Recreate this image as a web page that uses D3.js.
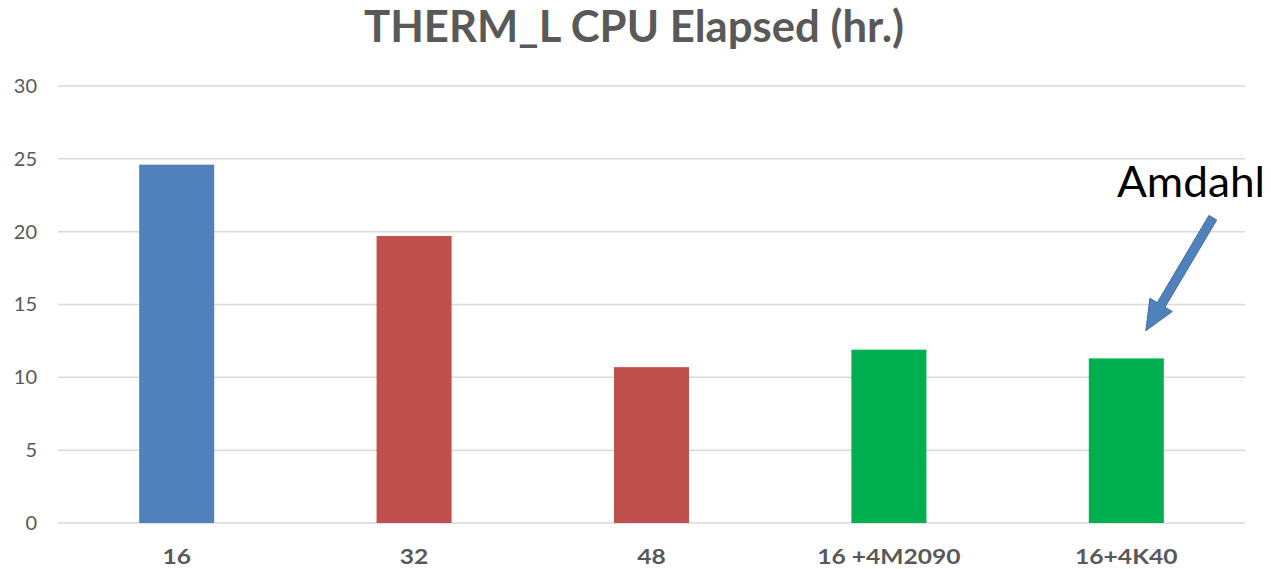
<!DOCTYPE html>
<html><head><meta charset="utf-8">
<script src="https://cdn.jsdelivr.net/npm/d3@7"></script>
<style>body{margin:0;background:#fff}</style>
</head><body>
<script>
const categories = ["16", "32", "48", "16 +4M2090", "16+4K40"];
const values = [24.6, 19.7, 10.7, 11.9, 11.3];
const barColors = ["#4F81BD", "#C0504D", "#C0504D", "#00B050", "#00B050"];
const yTicks = [0, 5, 10, 15, 20, 25, 30];
const title = "THERM_L CPU Elapsed (hr.)";
const annotation = "Amdahl";

const W = 1271, H = 569;
const FONT = "Lato, 'Open Sans', sans-serif";
const svg = d3.select("body").append("svg").attr("width", W).attr("height", H);

const x = d3.scaleBand().domain(categories).range([58, 1245]).paddingInner(0.684).paddingOuter(0.342);
const y = d3.scaleLinear().domain([0, 30]).range([523, 86]);

// gridlines
svg.append("g").selectAll("line").data(yTicks).join("line")
  .attr("x1", 58).attr("x2", 1245)
  .attr("y1", d => y(d)).attr("y2", d => y(d))
  .attr("stroke", "#d9d9d9").attr("stroke-width", 1.5);

// y axis labels
const ya = svg.append("g").attr("transform", "translate(37,0)")
  .call(d3.axisLeft(y).tickValues(yTicks).tickSize(0).tickPadding(0));
ya.select(".domain").remove();
ya.selectAll("text").attr("font-family", FONT).attr("font-size", 20).attr("fill", "#595959");

// bars
svg.append("g").selectAll("rect").data(values).join("rect")
  .attr("x", (d, i) => x(categories[i]))
  .attr("width", x.bandwidth())
  .attr("y", d => y(d))
  .attr("height", d => y(0) - y(d))
  .attr("fill", (d, i) => barColors[i]);

// x axis labels
const xa = svg.append("g").attr("transform", "translate(0,549)")
  .call(d3.axisBottom(x).tickSize(0).tickPadding(0));
xa.select(".domain").remove();
xa.selectAll("text").attr("font-family", FONT).attr("font-weight", "bold")
  .attr("font-size", 20.5).attr("fill", "#595959").attr("dy", "0.71em")
  .each(function() {
    const L = this.getComputedTextLength();
    d3.select(this).attr("textLength", L * 1.2).attr("lengthAdjust", "spacingAndGlyphs");
  });

// title
svg.append("text").attr("x", 634).attr("y", 42).attr("text-anchor", "middle")
  .attr("font-family", FONT).attr("font-weight", "bold")
  .attr("font-size", 44).attr("fill", "#595959")
  .attr("textLength", 540).attr("lengthAdjust", "spacingAndGlyphs")
  .text(title);

// annotation text
svg.append("text").attr("x", 1191).attr("y", 197).attr("text-anchor", "middle")
  .attr("font-family", FONT)
  .attr("font-size", 42).attr("fill", "#000")
  .attr("textLength", 148).attr("lengthAdjust", "spacingAndGlyphs")
  .text(annotation);

// arrow
const last = categories[categories.length - 1];
const tip = [x(last) + x.bandwidth() * 0.76, y(13.2)];
const tail = [tip[0] + 67, tip[1] - 113];
const dx = tip[0] - tail[0], dy = tip[1] - tail[1];
const len = Math.hypot(dx, dy);
const ux = dx / len, uy = dy / len, px = -uy, py = ux;
const sw = 4.5, hw = 13, hl = 30;
const bx = tip[0] - ux * hl, by = tip[1] - uy * hl;
const pts = [
  [tail[0] + px * sw, tail[1] + py * sw],
  [bx + px * sw, by + py * sw],
  [bx + px * hw, by + py * hw],
  tip,
  [bx - px * hw, by - py * hw],
  [bx - px * sw, by - py * sw],
  [tail[0] - px * sw, tail[1] - py * sw]
];
svg.append("path").attr("d", "M" + pts.map(p => p.join(",")).join("L") + "Z")
  .attr("fill", "#4F81BD").attr("stroke", "#41719C").attr("stroke-width", 1);
</script>
</body></html>
